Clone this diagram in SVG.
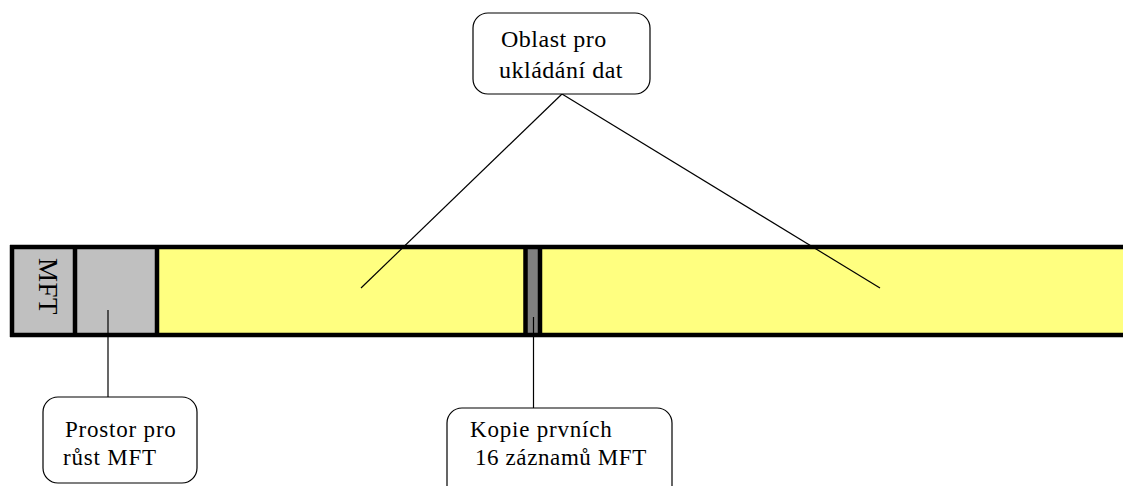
<svg xmlns="http://www.w3.org/2000/svg" width="1123" height="486" viewBox="0 0 1123 486">
<style>
.box{fill:#fff;stroke:#000;stroke-width:1.2}
.t{font-family:"Liberation Serif","Times New Roman",serif;font-size:22px;fill:#000}
.s{font-size:23px;letter-spacing:0.8px}
.b{font-size:24px;letter-spacing:0.5px}
.ln{stroke:#000;stroke-width:1.2;fill:none}
.bd{stroke:#000;stroke-width:4.5;fill:none}
</style>
<rect width="1123" height="486" fill="#fff"/>
<g id="bar">
<rect x="12" y="247" width="63" height="88" fill="#c0c0c0"/>
<rect x="75" y="247" width="82" height="88" fill="#c0c0c0"/>
<rect x="157" y="247" width="370" height="88" fill="#ffff80"/>
<rect x="527" y="247" width="12" height="88" fill="#808080"/>
<rect x="539" y="247" width="600" height="88" fill="#ffff80"/>
<line class="bd" x1="10" y1="247" x2="1130" y2="247"/>
<line class="bd" x1="10" y1="335" x2="1130" y2="335"/>
<line class="bd" x1="12" y1="245" x2="12" y2="337"/>
<line class="bd" x1="75" y1="245" x2="75" y2="337"/>
<line class="bd" x1="157" y1="245" x2="157" y2="337"/>
<line class="bd" x1="525.5" y1="245" x2="525.5" y2="337"/>
<line class="bd" x1="540" y1="245" x2="540" y2="337"/>
<text class="t" transform="translate(39,258) rotate(90)" style="font-size:27px;letter-spacing:0.5px">MFT</text>
</g>
<g id="connectors">
<line class="ln" x1="562" y1="94" x2="361" y2="288"/>
<line class="ln" x1="562" y1="94" x2="880" y2="288"/>
<line class="ln" x1="108" y1="310" x2="108" y2="397"/>
<line class="ln" x1="533.5" y1="317" x2="533.5" y2="408"/>
</g>
<g id="oblast">
<rect class="box" x="473" y="13" width="177" height="81" rx="15"/>
<text class="t b" x="501" y="47">Oblast pro</text>
<text class="t b" x="499" y="78">ukládání dat</text>
</g>
<g id="prostor">
<rect class="box" x="43" y="397" width="154" height="86" rx="15"/>
<text class="t s" x="65" y="437">Prostor pro</text>
<text class="t s" x="63" y="465">růst MFT</text>
</g>
<g id="kopie">
<rect class="box" x="447" y="408" width="225" height="100" rx="15"/>
<text class="t s" x="470" y="437">Kopie prvních</text>
<text class="t s" x="475" y="465" style="letter-spacing:0.6px">16 záznamů MFT</text>
</g>
</svg>
